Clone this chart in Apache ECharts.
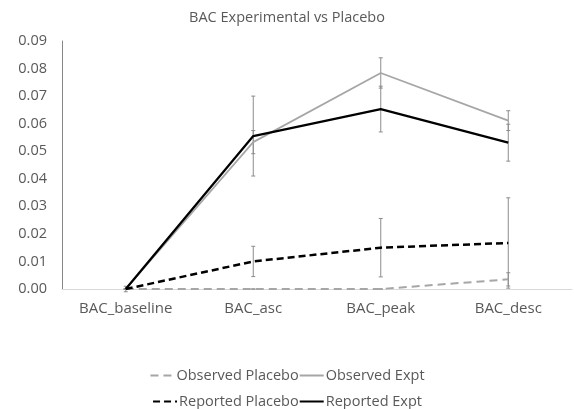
<!DOCTYPE html>
<html>
<head>
<meta charset="utf-8">
<script src="https://cdn.jsdelivr.net/npm/echarts@6/dist/echarts.min.js"></script>
<style>
html,body{margin:0;padding:0;background:#fff;}
#chart{width:574px;height:409px;}
</style>
</head>
<body>
<div id="chart"></div>
<script>
var categories = ['BAC_baseline', 'BAC_asc', 'BAC_peak', 'BAC_desc'];
var yTicks = [0, 0.01, 0.02, 0.03, 0.04, 0.05, 0.06, 0.07, 0.08, 0.09];

var observedPlacebo = [0, 0, 0, 0.0035];
var observedPlaceboErr = [0, 0, 0, 0.0024];
var observedExpt = [0, 0.0533, 0.0784, 0.0611];
var observedExptErr = [0, 0.0042, 0.0055, 0.0036];
var reportedPlacebo = [0, 0.0100, 0.0150, 0.0167];
var reportedPlaceboErr = [0, 0.0055, 0.0106, 0.0164];
var reportedExpt = [0, 0.0555, 0.0653, 0.0531];
var reportedExptErr = [0.0010, 0.0145, 0.0083, 0.0067];

var FONT = 'Open Sans';
var TXT = '#595959';

function errData(vals, errs) {
  return vals.map(function (v, i) { return [i, v - errs[i], v + errs[i]]; });
}

function errSeries(vals, errs) {
  return {
    type: 'custom',
    silent: true,
    z: 1,
    data: errData(vals, errs),
    renderItem: function (params, api) {
      var x = api.value(0);
      var lo = api.coord([x, api.value(1)]);
      var hi = api.coord([x, api.value(2)]);
      var c = 2;
      var style = { stroke: '#8c8c8c', lineWidth: 1, fill: null };
      return {
        type: 'group',
        children: [
          { type: 'line', shape: { x1: hi[0], y1: hi[1], x2: lo[0], y2: lo[1] }, style: style },
          { type: 'line', shape: { x1: hi[0] - c, y1: hi[1], x2: hi[0] + c, y2: hi[1] }, style: style },
          { type: 'line', shape: { x1: lo[0] - c, y1: lo[1], x2: lo[0] + c, y2: lo[1] }, style: style }
        ]
      };
    }
  };
}

function lineSeries(name, data, color, width, type) {
  return {
    name: name,
    type: 'line',
    data: data,
    symbol: 'none',
    z: 3,
    lineStyle: { color: color, width: width, type: type },
    itemStyle: { color: color }
  };
}

function legendRow(names, top) {
  return {
    data: names,
    top: top,
    left: 'center',
    itemWidth: 24,
    itemHeight: 10,
    itemGap: 0,
    itemStyle: { opacity: 0 },
    textStyle: { fontFamily: FONT, fontSize: 14.5, color: TXT, padding: [0, 0, 0, -3] }
  };
}

var chart = echarts.init(document.getElementById('chart'), null, { renderer: 'canvas' });
chart.setOption({
  animation: false,
  backgroundColor: '#fff',
  title: {
    text: 'BAC Experimental vs Placebo',
    left: 'center',
    top: 5,
    textStyle: { fontFamily: FONT, fontSize: 14.5, fontWeight: 'normal', color: TXT }
  },
  legend: [
    legendRow(['Observed Placebo', 'Observed Expt'], 363),
    legendRow(['Reported Placebo', 'Reported Expt'], 389)
  ],
  grid: { left: 62, right: 2, top: 41, bottom: 120, containLabel: false },
  xAxis: {
    type: 'category',
    data: categories,
    boundaryGap: true,
    axisLine: { lineStyle: { color: '#d9d9d9', width: 1 } },
    axisTick: { show: false },
    axisLabel: { fontFamily: FONT, fontSize: 15, color: TXT, margin: 12 }
  },
  yAxis: {
    type: 'value',
    min: 0,
    max: 0.09,
    interval: 0.01,
    axisLine: { show: true, lineStyle: { color: '#868686', width: 1 } },
    axisTick: { show: false },
    splitLine: { show: false },
    axisLabel: {
      fontFamily: FONT, fontSize: 14.5, color: TXT, margin: 15,
      formatter: function (v) { return v.toFixed(2); }
    }
  },
  series: [
    errSeries(observedPlacebo, observedPlaceboErr),
    errSeries(observedExpt, observedExptErr),
    errSeries(reportedPlacebo, reportedPlaceboErr),
    errSeries(reportedExpt, reportedExptErr),
    lineSeries('Observed Placebo', observedPlacebo, '#a6a6a6', 2, [8, 5]),
    lineSeries('Observed Expt', observedExpt, '#a6a6a6', 1.75, 'solid'),
    lineSeries('Reported Placebo', reportedPlacebo, '#000000', 2.5, [7, 4]),
    lineSeries('Reported Expt', reportedExpt, '#000000', 2.25, 'solid')
  ]
});
</script>
</body>
</html>
